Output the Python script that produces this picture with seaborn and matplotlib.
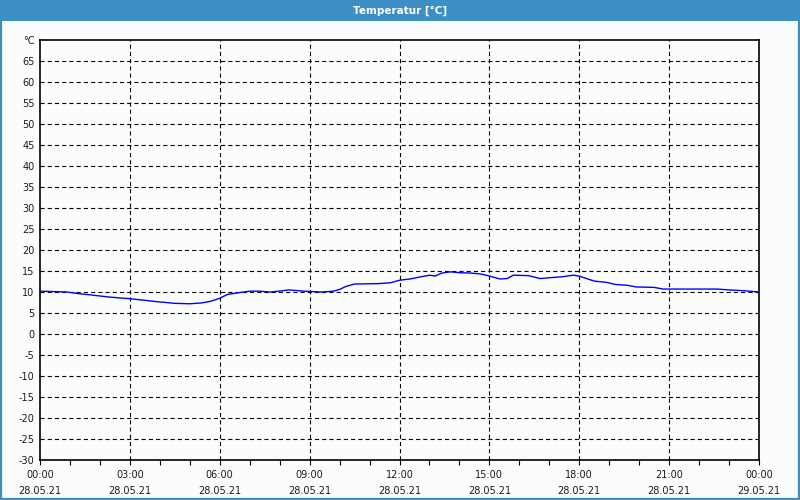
import matplotlib
matplotlib.use("Agg")
import matplotlib.pyplot as plt
import matplotlib.patches as mpatches
import pandas as pd
import seaborn as sns

# ---- data ----
hours = [0, 0.9, 1.3, 1.7, 2.3, 3.0, 3.4, 3.9, 4.5, 5.0,
         5.4, 5.7, 6.0, 6.25, 6.6, 7.0, 7.3, 7.7, 8.1, 8.3,
         8.8, 9.4, 9.8, 10.0, 10.2, 10.5, 11.3, 11.7, 12.0, 12.35,
         12.7, 13.0, 13.2, 13.4, 13.7, 14.0, 14.4, 14.7, 15.0, 15.35,
         15.6, 15.8, 16.3, 16.7, 17.0, 17.4, 17.8, 18.0, 18.2, 18.5,
         18.9, 19.2, 19.6, 19.9, 20.5, 20.8, 22.6, 23.0, 23.5, 24.0]
temps = [10.2, 10.0, 9.6, 9.3, 8.8, 8.4, 8.1, 7.7, 7.3, 7.2,
         7.4, 7.8, 8.5, 9.4, 9.8, 10.2, 10.2, 10.0, 10.3, 10.5,
         10.2, 10.0, 10.2, 10.6, 11.3, 11.9, 12.0, 12.2, 12.8, 13.1,
         13.6, 14.0, 13.8, 14.5, 14.8, 14.6, 14.5, 14.3, 13.8, 13.1,
         13.2, 14.0, 13.9, 13.2, 13.4, 13.6, 14.0, 13.8, 13.3, 12.6,
         12.3, 11.8, 11.6, 11.2, 11.1, 10.7, 10.7, 10.5, 10.3, 10.0]
x_tick_pos = [0, 3, 6, 9, 12, 15, 18, 21, 24]
x_tick_times = ["00:00", "03:00", "06:00", "09:00", "12:00", "15:00", "18:00", "21:00", "00:00"]
x_tick_dates = ["28.05.21"] * 8 + ["29.05.21"]
y_ticks = list(range(-30, 75, 5))
y_labels = [str(v) for v in y_ticks[:-1]] + ["°C"]
title = "Temperatur [°C]"

df = pd.DataFrame({"hour": hours, "temp": temps})

sns.set_theme(style="ticks")
plt.rcParams["font.family"] = ["DejaVu Sans"]
plt.rcParams["lines.scale_dashes"] = False

BG = "#fbfdfb"
BLUE_BAND = "#3b8fc5"

fig = plt.figure(figsize=(8, 5), dpi=100, facecolor=BG)

# title band and frame
fig.patches.append(mpatches.Rectangle((0, 1 - 21 / 500), 1, 21 / 500, transform=fig.transFigure,
                                      facecolor=BLUE_BAND, edgecolor="none", zorder=0))
fig.patches.append(mpatches.Rectangle((0.5 / 800, 1 / 500), 798.5 / 800, 0.99, transform=fig.transFigure,
                                      facecolor="none", edgecolor=BLUE_BAND, linewidth=1.6, zorder=0))
fig.text(0.5, 1 - 10.5 / 500, title, color="white", ha="center", va="center",
         fontsize=7.5, fontweight="bold")

ax = fig.add_axes([40 / 800, 40 / 500, 719 / 800, 420 / 500])
ax.set_facecolor(BG)

sns.lineplot(data=df, x="hour", y="temp", ax=ax, color="#0000ff", linewidth=1.0, zorder=3)

ax.set_xlim(0, 24)
ax.set_ylim(-30, 70)
ax.set_xticks(x_tick_pos)
ax.set_xticklabels([f"{t}\n{d}" for t, d in zip(x_tick_times, x_tick_dates)])
ax.set_xticks(range(0, 25), minor=True)
ax.set_yticks(y_ticks)
ax.set_yticklabels(y_labels)
ax.set_xlabel("")
ax.set_ylabel("")

ax.tick_params(axis="x", which="both", direction="out", length=3.5, width=0.8, color="black",
               labelsize=7, pad=4, labelcolor="#1a1a1a")
ax.tick_params(axis="y", which="both", length=0, labelsize=7, pad=4, labelcolor="#1a1a1a")
for lbl in ax.get_xticklabels():
    lbl.set_linespacing(1.75)

for s in ax.spines.values():
    s.set_visible(True)
    s.set_color("black")
    s.set_linewidth(1.2)

for v in y_ticks[1:-1]:
    ax.axhline(v, color="black", linewidth=0.8, linestyle=(0, (3, 2.2)), zorder=1)
for v in x_tick_pos[1:-1]:
    ax.axvline(v, color="black", linewidth=0.8, linestyle=(0, (3, 2.2)), zorder=1)

fig.savefig("out.png", dpi=100, facecolor=BG)
